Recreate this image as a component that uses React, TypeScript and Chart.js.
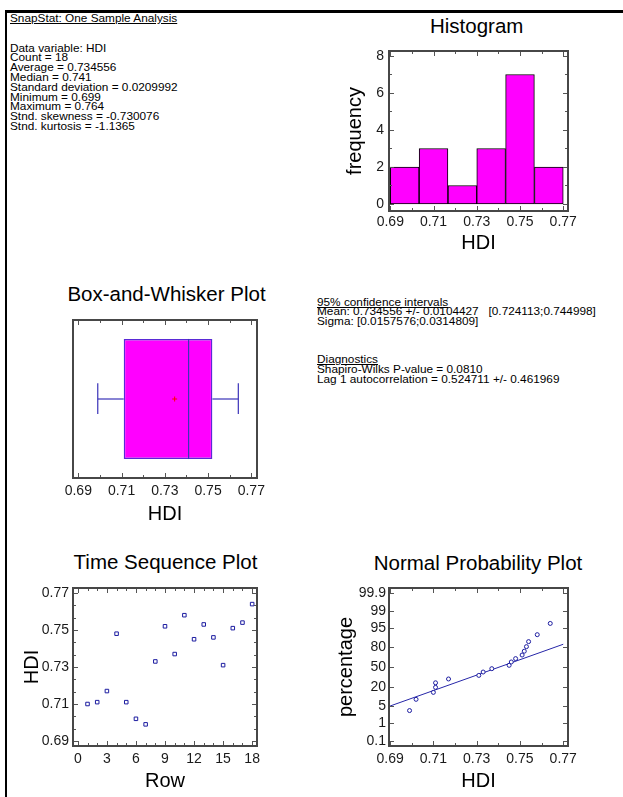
import React, { useEffect, useRef } from "react";
import { Chart, registerables } from "chart.js";

Chart.register(...registerables);

const FONT = '"Liberation Sans", Arial, Helvetica, sans-serif';

// ---------------- data ----------------
const rowNumbers = [1, 2, 3, 4, 5, 6, 7, 8, 9, 10, 11, 12, 13, 14, 15, 16, 17, 18];
const hdiValues = [0.710, 0.711, 0.717, 0.748, 0.711, 0.702, 0.699, 0.733, 0.752, 0.737, 0.758, 0.745, 0.753, 0.746, 0.731, 0.751, 0.754, 0.764];

const histBinEdges = [0.69, 0.7033, 0.7167, 0.73, 0.7433, 0.7567, 0.77];
const histCounts = [2, 3, 1, 3, 7, 2];

const boxMin = 0.699;
const boxQ1 = 0.711;
const boxMedian = 0.741;
const boxQ3 = 0.752;
const boxMax = 0.764;
const boxMean = 0.734556;

const sortedHdi = [0.699, 0.702, 0.710, 0.711, 0.711, 0.717, 0.731, 0.733, 0.737, 0.745, 0.746, 0.748, 0.751, 0.752, 0.753, 0.754, 0.758, 0.764];
const normalScores = [-1.82, -1.35, -1.06, -0.85, -0.66, -0.50, -0.35, -0.21, -0.07, 0.07, 0.21, 0.35, 0.50, 0.66, 0.85, 1.06, 1.35, 1.82];
const fitLineHdi = [0.69, 0.77];
const fitLineScores = [-1.63, 0.95];

const hdiTickValues = [0.69, 0.71, 0.73, 0.75, 0.77];
const freqTickValues = [0, 2, 4, 6, 8];
const rowTickValues = [0, 3, 6, 9, 12, 15, 18];
const percentTickLabels = ["0.1", "1", "5", "20", "50", "80", "95", "99", "99.9"];
const percentTickScores = [-3.09, -2.33, -1.64, -0.84, 0, 0.84, 1.64, 2.33, 3.09];

const panelTitles = ["Histogram", "Box-and-Whisker Plot", "Time Sequence Plot", "Normal Probability Plot"];

const summaryTitle = "SnapStat: One Sample Analysis";
const summaryLines = [
  "Data variable: HDI",
  "Count = 18",
  "Average = 0.734556",
  "Median = 0.741",
  "Standard deviation = 0.0209992",
  "Minimum = 0.699",
  "Maximum = 0.764",
  "Stnd. skewness = -0.730076",
  "Stnd. kurtosis = -1.1365",
];
const ciTitle = "95% confidence intervals";
const ciLines = [
  "Mean: 0.734556 +/- 0.0104427   [0.724113;0.744998]",
  "Sigma: [0.0157576;0.0314809]",
];
const diagTitle = "Diagnostics";
const diagLines = [
  "Shapiro-Wilks P-value = 0.0810",
  "Lag 1 autocorrelation = 0.524711 +/- 0.461969",
];

// ---------------- helpers ----------------
function steps(from: number, to: number, step: number): number[] {
  const out: number[] = [];
  const n = Math.round((to - from) / step);
  for (let i = 0; i <= n; i++) out.push(from + i * step);
  return out;
}

type FrameCfg = { xMajor: number[]; xMinor: number[]; yMajor: number[]; yMinor: number[] };

function framePlugin(cfg: FrameCfg) {
  return {
    id: "frameTicks",
    afterDatasetsDraw(chart: any) {
      const { ctx, chartArea: a, scales } = chart;
      const xs = scales.x;
      const ys = scales.y;
      ctx.save();
      ctx.strokeStyle = "#555";
      ctx.lineWidth = 1;
      ctx.beginPath();
      const vx = (v: number, len: number) => {
        const p = Math.round(xs.getPixelForValue(v)) + 0.5;
        ctx.moveTo(p, a.bottom);
        ctx.lineTo(p, a.bottom - len);
        ctx.moveTo(p, a.top);
        ctx.lineTo(p, a.top + len);
      };
      const hy = (v: number, len: number) => {
        const p = Math.round(ys.getPixelForValue(v)) + 0.5;
        ctx.moveTo(a.left, p);
        ctx.lineTo(a.left + len, p);
        ctx.moveTo(a.right, p);
        ctx.lineTo(a.right - len, p);
      };
      cfg.xMinor.forEach((v) => vx(v, 3));
      cfg.xMajor.forEach((v) => vx(v, 5));
      cfg.yMinor.forEach((v) => hy(v, 3));
      cfg.yMajor.forEach((v) => hy(v, 5));
      ctx.stroke();
      ctx.lineWidth = 2;
      ctx.strokeStyle = "#474747";
      ctx.strokeRect(a.left, a.top, a.right - a.left, a.bottom - a.top);
      ctx.restore();
    },
  };
}

function axis(o: {
  pos: "bottom" | "left";
  min: number;
  max: number;
  ticks: number[];
  label: (v: number, i: number) => string;
  size: number;
  tickPad: number;
  title: string;
}) {
  return {
    type: "linear",
    position: o.pos,
    min: o.min,
    max: o.max,
    offset: false,
    afterBuildTicks: (s: any) => {
      s.ticks = o.ticks.map((v) => ({ value: v }));
    },
    afterFit: (s: any) => {
      if (o.pos === "bottom") s.height = o.size;
      else s.width = o.size;
    },
    grid: { display: false, drawTicks: false },
    border: { display: false },
    ticks: {
      autoSkip: false,
      maxRotation: 0,
      minRotation: 0,
      padding: o.tickPad,
      color: "#1a1a1a",
      font: { family: FONT, size: 14 },
      callback: (v: any, i: number) => o.label(Number(v), i),
    },
    title: {
      display: true,
      text: o.title,
      color: "#000",
      font: { family: FONT, size: 20 },
      padding: 0,
    },
  };
}

function baseOptions(pad: any) {
  return {
    responsive: false,
    animation: false,
    events: [],
    layout: { padding: pad },
    plugins: {
      legend: { display: false },
      tooltip: { enabled: false },
      title: { display: false },
    },
  };
}

const hdiLabel = (v: number) => v.toFixed(2);
const intLabel = (v: number) => String(Math.round(v));

// ---------------- chart configs ----------------
function histogramConfig(): any {
  return {
    type: "bar",
    data: {
      datasets: [
        {
          data: histCounts.map((c, i) => ({ x: (histBinEdges[i] + histBinEdges[i + 1]) / 2, y: c })),
          backgroundColor: "#ff00ff",
          borderColor: "#000",
          borderWidth: 1,
          borderSkipped: false,
          barPercentage: 1,
          categoryPercentage: 1,
        },
      ],
    },
    options: {
      ...baseOptions({ left: 13, right: 55, top: 39, bottom: 0 }),
      scales: {
        x: axis({ pos: "bottom", min: 0.6894, max: 0.7722, ticks: hdiTickValues, label: hdiLabel, size: 44, tickPad: 3, title: "HDI" }),
        y: axis({ pos: "left", min: -0.38, max: 8.27, ticks: freqTickValues, label: intLabel, size: 46, tickPad: 5, title: "frequency" }),
      },
    },
    plugins: [framePlugin({ xMajor: hdiTickValues, xMinor: steps(0.69, 0.77, 0.01), yMajor: freqTickValues, yMinor: steps(0, 8, 1) })],
  };
}

function boxConfig(): any {
  const whisker = { type: "line", borderColor: "#3a32b8", borderWidth: 1.2, pointRadius: 0, fill: false };
  return {
    type: "bar",
    data: {
      datasets: [
        {
          type: "bar",
          data: [{ x: [boxQ1, boxQ3], y: 0.5 }],
          backgroundColor: "#ff00ff",
          borderColor: "#5a2ad6",
          borderWidth: 1.5,
          borderSkipped: false,
          barPercentage: 0.76,
          categoryPercentage: 1,
          order: 5,
        },
        { ...whisker, data: [{ x: boxMedian, y: 0.12 }, { x: boxMedian, y: 0.88 }] },
        { ...whisker, data: [{ x: boxMin, y: 0.5 }, { x: boxQ1, y: 0.5 }] },
        { ...whisker, data: [{ x: boxMin, y: 0.405 }, { x: boxMin, y: 0.6 }] },
        { ...whisker, data: [{ x: boxQ3, y: 0.5 }, { x: boxMax, y: 0.5 }] },
        { ...whisker, data: [{ x: boxMax, y: 0.405 }, { x: boxMax, y: 0.6 }] },
        {
          type: "line",
          showLine: false,
          data: [{ x: boxMean, y: 0.5 }],
          pointStyle: "cross",
          pointRadius: 2.5,
          borderColor: "#ff0000",
          backgroundColor: "#ff0000",
          borderWidth: 1,
        },
      ],
    },
    options: {
      ...baseOptions({ left: 33, right: 33, top: 50, bottom: 0 }),
      indexAxis: "y",
      scales: {
        x: axis({ pos: "bottom", min: 0.68755, max: 0.77264, ticks: hdiTickValues, label: hdiLabel, size: 48, tickPad: 5, title: "HDI" }),
        y: {
          type: "linear",
          display: false,
          min: 0,
          max: 1,
          offset: false,
          afterBuildTicks: (s: any) => {
            s.ticks = [{ value: 0.5 }];
          },
        },
      },
    },
    plugins: [framePlugin({ xMajor: hdiTickValues, xMinor: steps(0.69, 0.77, 0.01), yMajor: [], yMinor: [] })],
  };
}

function timeConfig(): any {
  return {
    type: "scatter",
    data: {
      datasets: [
        {
          data: rowNumbers.map((r, i) => ({ x: r, y: hdiValues[i] })),
          pointStyle: "rect",
          pointRadius: 2.5,
          borderWidth: 1,
          borderColor: "#1c1ca0",
          backgroundColor: "#ffffff",
        },
      ],
    },
    options: {
      ...baseOptions({ left: 12, right: 33, top: 58, bottom: 0 }),
      scales: {
        x: axis({ pos: "bottom", min: -0.5, max: 18.5, ticks: rowTickValues, label: intLabel, size: 47, tickPad: 5, title: "Row" }),
        y: axis({ pos: "left", min: 0.6873, max: 0.7727, ticks: hdiTickValues, label: hdiLabel, size: 53, tickPad: 4, title: "HDI" }),
      },
    },
    plugins: [framePlugin({ xMajor: rowTickValues, xMinor: steps(0, 18, 1), yMajor: hdiTickValues, yMinor: steps(0.69, 0.77, 0.02 / 3) })],
  };
}

function normalConfig(): any {
  return {
    type: "scatter",
    data: {
      datasets: [
        {
          data: sortedHdi.map((v, i) => ({ x: v, y: normalScores[i] })),
          pointStyle: "circle",
          pointRadius: 2,
          borderWidth: 1,
          borderColor: "#1c1ca0",
          backgroundColor: "#ffffff",
        },
        {
          data: fitLineHdi.map((v, i) => ({ x: v, y: fitLineScores[i] })),
          showLine: true,
          pointRadius: 0,
          borderColor: "#2626a8",
          borderWidth: 1,
        },
      ],
    },
    options: {
      ...baseOptions({ left: 14, right: 55, top: 58, bottom: 0 }),
      scales: {
        x: axis({ pos: "bottom", min: 0.6895, max: 0.7722, ticks: hdiTickValues, label: hdiLabel, size: 47, tickPad: 5, title: "HDI" }),
        y: axis({
          pos: "left",
          min: -3.3,
          max: 3.3,
          ticks: percentTickScores,
          label: (_v, i) => percentTickLabels[i],
          size: 55,
          tickPad: 3,
          title: "percentage",
        }),
      },
    },
    plugins: [framePlugin({ xMajor: hdiTickValues, xMinor: steps(0.69, 0.77, 0.01), yMajor: percentTickScores, yMinor: [] })],
  };
}

// ---------------- components ----------------
function ChartCanvas(props: { left: number; top: number; width: number; height: number; build: () => any }) {
  const ref = useRef<HTMLCanvasElement | null>(null);
  useEffect(() => {
    if (!ref.current) return;
    const chart = new Chart(ref.current, props.build());
    return () => chart.destroy();
  }, []);
  return (
    <canvas
      ref={ref}
      width={props.width}
      height={props.height}
      style={{ position: "absolute", left: props.left, top: props.top, width: props.width, height: props.height }}
    />
  );
}

function PanelTitle(props: { cx: number; cy: number; text: string }) {
  return (
    <div
      style={{
        position: "absolute",
        left: props.cx - 150,
        top: props.cy - 12,
        width: 300,
        textAlign: "center",
        fontFamily: FONT,
        fontSize: 20.5,
        lineHeight: "24px",
        color: "#000",
        whiteSpace: "pre",
      }}
    >
      {props.text}
    </div>
  );
}

const textStyle: React.CSSProperties = {
  position: "absolute",
  fontFamily: FONT,
  fontSize: 11.8,
  lineHeight: "9.8px",
  whiteSpace: "pre",
  color: "#000",
};

export default function App() {
  return (
    <div style={{ position: "absolute", left: 0, top: 0, width: 623, height: 797, background: "#fff", overflow: "hidden" }}>
      <div
        style={{
          position: "absolute",
          left: 5,
          top: 10,
          width: 640,
          height: 800,
          borderLeft: "2px solid #000",
          borderTop: "3px solid #000",
        }}
      />
      <div style={{ ...textStyle, left: 10, top: 14.2 }}>
        <div style={{ textDecoration: "underline" }}>{summaryTitle}</div>
        <div>{" "}</div>
        <div>{" "}</div>
        {summaryLines.map((l, i) => (
          <div key={i}>{l}</div>
        ))}
      </div>
      <div style={{ ...textStyle, left: 317, top: 297.6 }}>
        <div style={{ textDecoration: "underline" }}>{ciTitle}</div>
        {ciLines.map((l, i) => (
          <div key={i}>{l}</div>
        ))}
      </div>
      <div style={{ ...textStyle, left: 317, top: 355.2 }}>
        <div style={{ textDecoration: "underline" }}>{diagTitle}</div>
        {diagLines.map((l, i) => (
          <div key={i}>{l}</div>
        ))}
      </div>
      <PanelTitle cx={476.7} cy={25.5} text={panelTitles[0]} />
      <PanelTitle cx={166.5} cy={294} text={panelTitles[1]} />
      <PanelTitle cx={165.5} cy={562} text={panelTitles[2]} />
      <PanelTitle cx={478} cy={563} text={panelTitles[3]} />
      <ChartCanvas left={330} top={12} width={293} height={243} build={histogramConfig} />
      <ChartCanvas left={40} top={270} width={250} height={256} build={boxConfig} />
      <ChartCanvas left={8} top={530} width={282} height={263} build={timeConfig} />
      <ChartCanvas left={320} top={530} width={303} height={263} build={normalConfig} />
    </div>
  );
}
